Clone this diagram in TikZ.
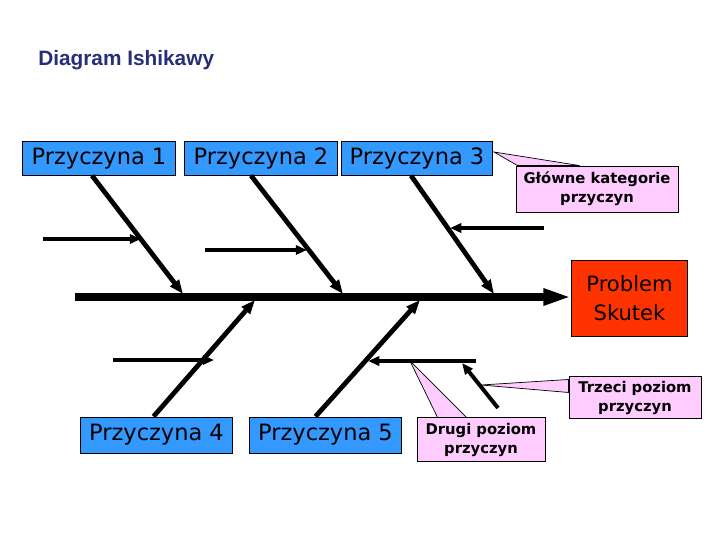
\documentclass[tikz,border=0pt]{standalone}
\usepackage{fontspec}
\setmainfont{DejaVu Sans}
\newfontfamily\titlefont{Liberation Sans}
\usepackage{tikz}
\usetikzlibrary{arrows.meta,positioning,calc,backgrounds}
\definecolor{navy}{RGB}{38,48,118}
\definecolor{causeblue}{RGB}{51,153,255}
\definecolor{effectred}{RGB}{255,51,0}
\definecolor{notepink}{RGB}{255,204,255}
\tikzset{
  causebox/.style={draw=black, line width=0.7pt, fill=causeblue, inner sep=0pt,
    minimum width=3.8cm, minimum height=0.83cm, font=\fontsize{16}{19}\selectfont},
  effectbox/.style={draw=black, line width=0.7pt, fill=effectred, inner sep=0pt, align=center,
    minimum width=2.88cm, minimum height=1.9cm, font=\fontsize{15}{20.5}\selectfont},
  notebox/.style={draw=black, line width=0.6pt, fill=notepink, inner sep=0pt, align=center,
    font=\fontsize{10.5}{13.5}\selectfont\bfseries},
  callout/.style={draw=black, line width=0.5pt, fill=notepink},
  spine/.style={line width=5pt, -{Triangle[length=20pt,width=11pt]}},
  bone/.style={line width=3.4pt, -{Triangle[length=10pt,width=7.5pt]}},
  twig/.style={line width=2.8pt, -{Triangle[length=8pt,width=6.5pt]}}
}

\begin{document}
\begin{tikzpicture}[x=0.025cm, y=-0.025cm]
\useasboundingbox (0,0) rectangle (720,540);

\node[anchor=west, inner sep=0pt, text=navy, font=\titlefont\fontsize{14.8}{17}\selectfont\bfseries]
  (title) at (38,60) {Diagram Ishikawy};

% main categories
\node[causebox] (p1) at (99,158.5) {Przyczyna 1};
\node[causebox] (p2) at (261,158.5) {Przyczyna 2};
\node[causebox, minimum width=3.75cm] (p3) at (417,158.5) {Przyczyna 3};
\node[causebox, minimum width=3.78cm, minimum height=0.9cm] (p4) at (156.5,435) {Przyczyna 4};
\node[causebox, minimum width=3.78cm, minimum height=0.9cm] (p5) at (325.5,435) {Przyczyna 5};
\node[effectbox] (problem) at (629.5,298) {Problem\\Skutek};

% notes
\node[notebox, minimum width=4.05cm, minimum height=1.15cm] (glowne) at (597,189)
  {Główne kategorie\\przyczyn};
\node[notebox, minimum width=3.2cm, minimum height=1.08cm] (drugi) at (481,439.5)
  {Drugi poziom\\przyczyn};
\node[notebox, minimum width=3.3cm, minimum height=1.03cm] (trzeci) at (635,397.5)
  {Trzeci poziom\\przyczyn};

% points on the spine and free ends
\coordinate (tail) at (75,297);
\coordinate (s1) at (183,294);
\coordinate (s2) at (343,294);
\coordinate (s3) at (494,294);
\coordinate (s4) at (255,300);
\coordinate (s5) at (420,300);
\coordinate (h1) at (43,239);   \coordinate (e1) at (141,239);
\coordinate (h2) at (205,250);  \coordinate (e2) at (307,250);
\coordinate (h3) at (544,228);  \coordinate (e3) at (450,228);
\coordinate (h4) at (113,360);  \coordinate (e4) at (214,360);
\coordinate (h5) at (476,361);  \coordinate (e5) at (368,361);
\coordinate (t0) at (498,408);  \coordinate (t1) at (462,363);
\coordinate (tipA) at (494,152);
\coordinate (tipB) at (410,361);
\coordinate (tipC) at (481,385);

\begin{scope}[on background layer]
\draw[callout] (tipA) -- ($(glowne.north west)+(2,0)$) -- ($(glowne.north west)+(64,0)$) -- cycle;
\draw[callout] (tipB) -- ($(drugi.north west)+(21,0)$) -- ($(drugi.north west)+(50,0)$) -- cycle;
\draw[callout] (tipC) -- ($(trzeci.north west)+(0,3)$) -- ($(trzeci.north west)+(0,16)$) -- cycle;
\end{scope}

\draw[spine] (tail) -- (problem.west |- tail);
\draw[bone] ($(p1.south)+(-7,0)$) -- (s1);
\draw[bone] ($(p2.south)+(-10,0)$) -- (s2);
\draw[bone] ($(p3.south)+(-6,0)$) -- (s3);
\draw[bone] ($(p4.north)+(-3,0)$) -- (s4);
\draw[bone] ($(p5.north)+(-10,0)$) -- (s5);

\draw[twig] (h1) -- (e1);
\draw[twig] (h2) -- (e2);
\draw[twig] (h3) -- (e3);
\draw[twig] (h4) -- (e4);
\draw[twig] (h5) -- (e5);
\draw[twig] (t0) -- (t1);
\end{tikzpicture}
\end{document}
